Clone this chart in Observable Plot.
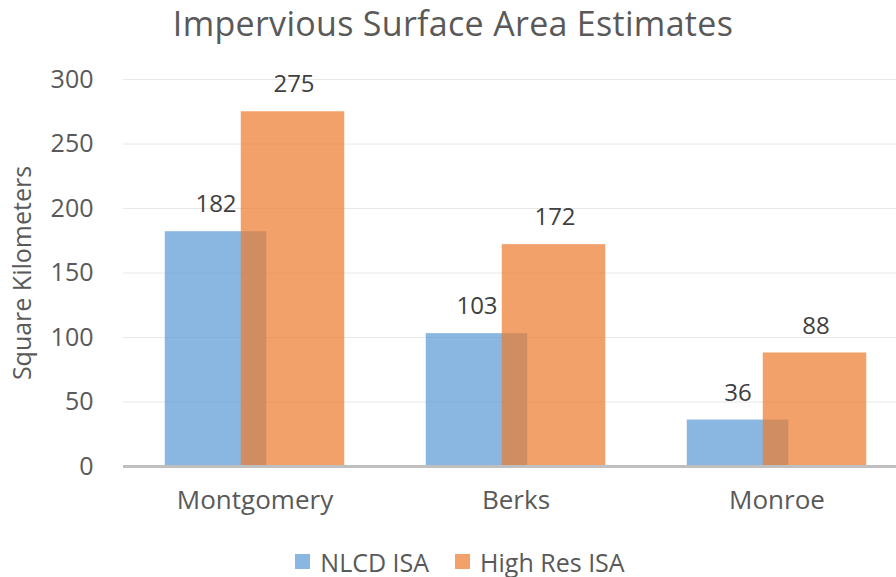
<!DOCTYPE html>
<html>
<head>
<meta charset="utf-8">
<script src="https://cdn.jsdelivr.net/npm/d3@7"></script>
<script src="https://cdn.jsdelivr.net/npm/@observablehq/plot@0.6"></script>
<style>
  html, body { margin: 0; padding: 0; background: #fff; overflow: hidden; }
  body { width: 896px; height: 577px; font-family: "Open Sans", sans-serif; color: #595959; }
  #title { height: 50px; line-height: 46px; text-align: center; font-size: 34px; letter-spacing: 0.3px; color: #595959; padding-left: 10px; }
  #legend { height: 47px; display: flex; justify-content: center; align-items: center; gap: 26px; font-size: 25px; color: #595959; padding-left: 24px; padding-top: 16px; box-sizing: border-box; }
  .sw { display: inline-block; width: 15px; height: 15px; margin-right: 10px; }
  .item { display: flex; align-items: center; }
  svg { display: block; overflow: visible; }
</style>
</head>
<body>
<div id="title">Impervious Surface Area Estimates</div>
<div id="chart"></div>
<div id="legend"></div>
<script>
const counties = ["Montgomery", "Berks", "Monroe"];
const nlcd = [182, 103, 36];
const highRes = [275, 172, 88];
const seriesNames = ["NLCD ISA", "High Res ISA"];
const seriesColors = ["#5B9BD5", "#ED7D31"];
const yTicks = [0, 50, 100, 150, 200, 250, 300];

const dataN = counties.map((c, i) => ({county: c, value: nlcd[i]}));
const dataH = counties.map((c, i) => ({county: c, value: highRes[i]}));

const chart = Plot.plot({
  width: 896,
  height: 480,
  marginLeft: 123,
  marginRight: -12,
  marginTop: 29,
  marginBottom: 64,
  style: {fontFamily: "Open Sans, sans-serif", color: "#595959", fontSize: "22px", overflow: "visible"},
  x: {domain: counties, padding: 0, label: null},
  y: {domain: [0, 300], ticks: yTicks, label: "Square Kilometers"},
  marks: [
    Plot.gridY(yTicks, {stroke: "#D9D9D9", strokeOpacity: 0.6, strokeWidth: 1}),
    Plot.axisY(yTicks, {tickSize: 0, tickPadding: 30, fontSize: 25, fill: "#595959",
      label: "Square Kilometers", labelAnchor: "center", labelOffset: 110, labelArrow: "none"}),
    Plot.axisX({tickSize: 0, tickPadding: 24, fontSize: 26, fill: "#595959", label: null}),
    Plot.barY(dataN, {x: "county", y: "value", fill: seriesColors[0], fillOpacity: 0.72,
      insetLeft: 40.75, insetRight: 118.75}),
    Plot.barY(dataH, {x: "county", y: "value", fill: seriesColors[1], fillOpacity: 0.72,
      insetLeft: 116.75, insetRight: 40.75}),
    Plot.text(dataN, {x: "county", y: "value", text: d => String(d.value), dx: -39, dy: -27,
      fontSize: 24, fill: "#404040"}),
    Plot.text(dataH, {x: "county", y: "value", text: d => String(d.value), dx: 39, dy: -27,
      fontSize: 24, fill: "#404040"}),
    Plot.ruleY([0], {stroke: "#BFBFBF", strokeWidth: 3})
  ]
});
document.getElementById("chart").appendChild(chart);

const legend = document.getElementById("legend");
seriesNames.forEach((n, i) => {
  const item = document.createElement("span");
  item.className = "item";
  const sw = document.createElement("span");
  sw.className = "sw";
  sw.style.background = seriesColors[i];
  sw.style.opacity = 0.72;
  item.appendChild(sw);
  item.appendChild(document.createTextNode(n));
  legend.appendChild(item);
});
</script>
</body>
</html>
